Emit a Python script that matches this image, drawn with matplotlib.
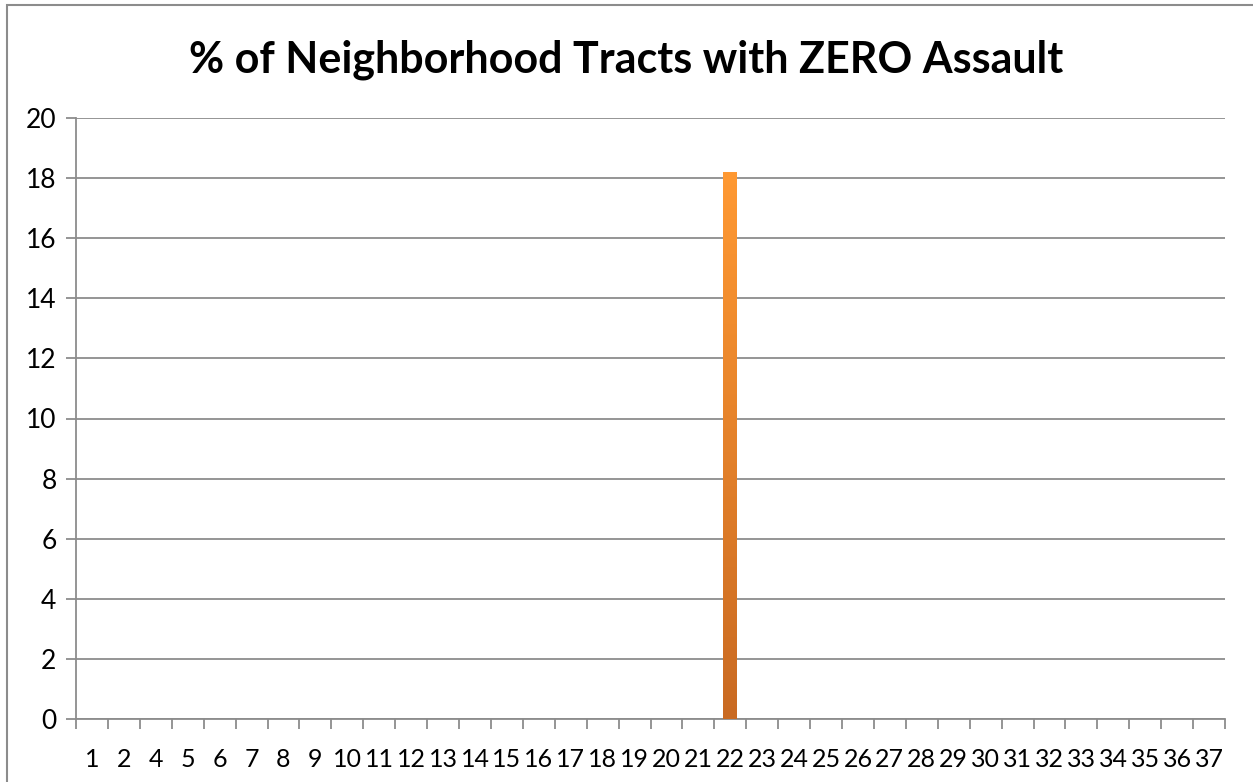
import matplotlib.pyplot as plt
import numpy as np
from matplotlib.patches import Rectangle

# tract labels (no tract 3 in the data) and % with zero assault
tracts = [1, 2] + list(range(4, 38))
pct_zero = [0.0] * len(tracts)
pct_zero[tracts.index(22)] = 18.2

title = "% of Neighborhood Tracts with ZERO Assault"
grey = "#8c8c8c"

plt.rcParams['font.family'] = ['Lato', 'DejaVu Sans']

fig = plt.figure(figsize=(12.53, 7.82), dpi=100)
ax = fig.add_axes([76 / 1253, 1 - 719 / 782, 1149 / 1253, 601 / 782])

x = np.arange(len(tracts))
bars = ax.bar(x, pct_zero, width=0.43, color="#f28a2e", zorder=3)

# vertical orange gradient on the bars
grad = np.linspace(0, 1, 256).reshape(-1, 1)
cmap = plt.matplotlib.colors.LinearSegmentedColormap.from_list(
    "orange", ["#c96a22", "#ff9933"])
for b in bars:
    if b.get_height() <= 0:
        b.set_visible(False)
        continue
    im = ax.imshow(grad, cmap=cmap, aspect="auto", origin="lower",
                   extent=[b.get_x(), b.get_x() + b.get_width(), 0, b.get_height()],
                   zorder=4)
    im.set_clip_path(b)

ax.set_xlim(-0.5, len(tracts) - 0.5)
ax.set_ylim(0, 20)
ax.set_yticks(range(0, 21, 2))
ax.yaxis.grid(True, color=grey, linewidth=1.3, zorder=0)
ax.set_axisbelow(True)

ax.set_xticks(x)
ax.set_xticklabels([str(t) for t in tracts])
ax.set_xticks(np.arange(len(tracts) + 1) - 0.5, minor=True)
ax.tick_params(axis="x", which="major", length=0, pad=21, labelsize=18)
ax.tick_params(axis="x", which="minor", length=7, width=1.3, color=grey, direction="out")
ax.tick_params(axis="y", length=7, width=1.3, color=grey, pad=7, labelsize=19)

for s in ["top", "right"]:
    ax.spines[s].set_visible(False)
for s in ["left", "bottom"]:
    ax.spines[s].set_color(grey)
    ax.spines[s].set_linewidth(1.3)

fig.text(0.5, 1 - 72 / 782, title, ha="center", va="baseline",
         fontsize=31, fontweight="bold")

# chart frame (open on the right and bottom edges)
fig.patches.append(Rectangle((7 / 1253, -0.05), 1.1, 1 - 5 / 782 + 0.05,
                             transform=fig.transFigure,
                             fill=False, edgecolor=grey, linewidth=1.5))

fig.savefig("out.png", dpi=100)
